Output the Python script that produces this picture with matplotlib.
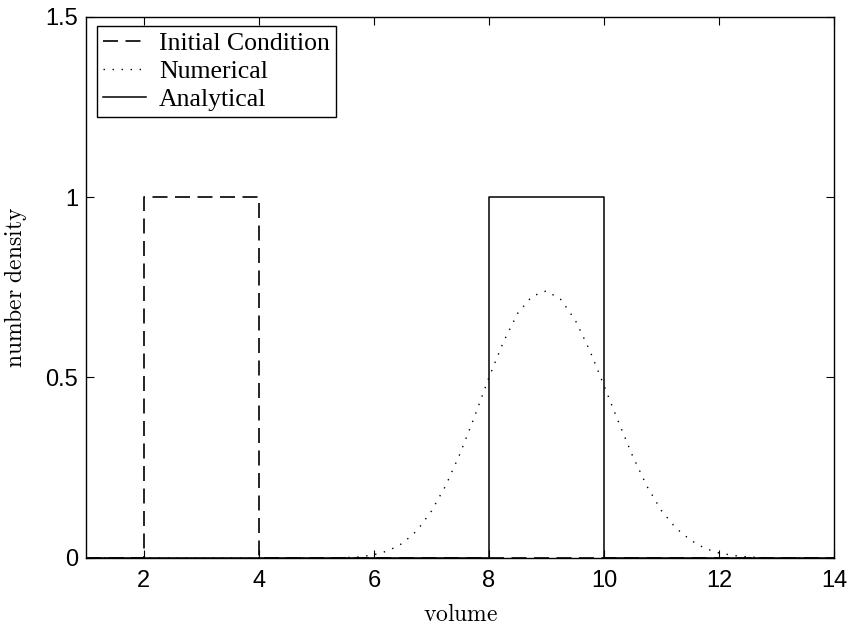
import matplotlib
matplotlib.use('Agg')
import matplotlib.pyplot as plt

# ---- data ----
vol_init = [1.0, 2.0, 2.0, 4.0, 4.0, 14.0]
dens_init = [0.0, 0.0, 1.0, 1.0, 0.0, 0.0]

vol_num = [1.0, 5.25, 5.5, 5.75, 6.0, 6.25, 6.5, 6.75, 7.0, 7.25, 7.5, 7.75,
           8.0, 8.25, 8.5, 8.75, 9.0, 9.25, 9.5, 9.75, 10.0, 10.25, 10.5,
           10.75, 11.0, 11.25, 11.5, 11.75, 12.0, 12.25, 12.5, 12.75, 13.0, 14.0]
dens_num = [0.0, 0.0, 0.001, 0.003, 0.009, 0.020, 0.041, 0.076, 0.130, 0.201,
            0.290, 0.392, 0.500, 0.598, 0.678, 0.725, 0.740, 0.716, 0.659,
            0.576, 0.478, 0.378, 0.282, 0.198, 0.131, 0.083, 0.050, 0.027,
            0.014, 0.007, 0.003, 0.001, 0.0, 0.0]

vol_ana = [1.0, 8.0, 8.0, 10.0, 10.0, 14.0]
dens_ana = [0.0, 0.0, 1.0, 1.0, 0.0, 0.0]

labels = ['Initial Condition', 'Numerical', 'Analytical']
xticks = [2, 4, 6, 8, 10, 12, 14]
yticks = [0, 0.5, 1, 1.5]
ytick_labels = ['0', '0.5', '1', '1.5']

plt.rcParams['mathtext.fontset'] = 'cm'

fig = plt.figure(figsize=(8.53, 6.30), dpi=100)
ax = fig.add_axes([0.1013, 0.1143, 0.8764, 0.8595])

ax.plot(vol_init, dens_init, color='black', lw=1.2, linestyle=(0, (9, 4.5)),
        label=labels[0])
ax.plot(vol_num, dens_num, color='black', lw=1.0, linestyle=(0, (1, 5.5)),
        label=labels[1])
ax.plot(vol_ana, dens_ana, color='black', lw=1.1, linestyle='-',
        label=labels[2])

ax.set_xlim(1, 14)
ax.set_ylim(0, 1.5)
ax.set_xticks(xticks)
ax.set_yticks(yticks)
ax.set_yticklabels(ytick_labels)

# MATLAB-ish box with inward ticks on every side
ax.tick_params(direction='in', length=6, width=0.8, top=True, right=True,
               labelsize=17)
ax.tick_params(axis='x', pad=9)
ax.tick_params(axis='y', pad=6)
for lab in ax.get_xticklabels() + ax.get_yticklabels():
    lab.set_fontfamily('Liberation Sans')
for sp in ax.spines.values():
    sp.set_linewidth(1.0)

ax.set_xlabel(r'$\mathrm{volume}$', fontsize=17, labelpad=7)
ax.set_ylabel(r'$\mathrm{number\ density}$', fontsize=17, labelpad=12)

leg = ax.legend(loc='upper left', bbox_to_anchor=(0.0142, 0.982),
                borderaxespad=0, fancybox=False, framealpha=1,
                edgecolor='black', handlelength=1.7, handletextpad=0.5,
                borderpad=0.22, labelspacing=0.2,
                prop={'family': 'Liberation Serif', 'size': 18.5})
leg.get_frame().set_linewidth(1.0)

fig.savefig('out.png', dpi=100)
